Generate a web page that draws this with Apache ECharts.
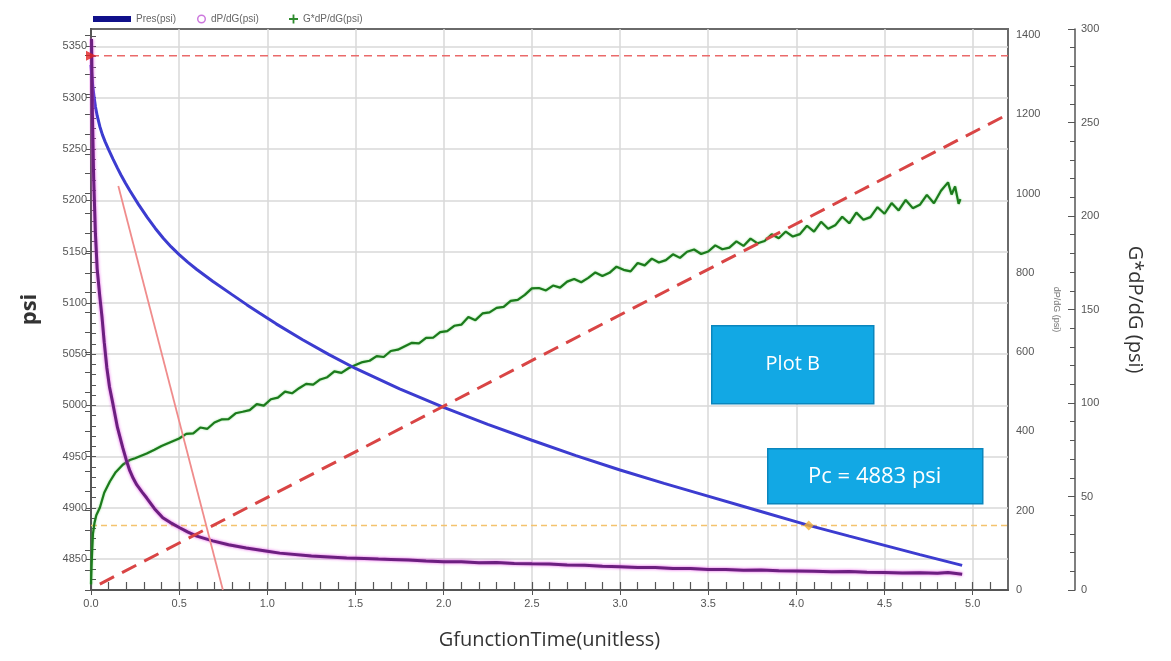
<!DOCTYPE html>
<html>
<head>
<meta charset="utf-8">
<script src="https://cdn.jsdelivr.net/npm/echarts@6/dist/echarts.min.js"></script>
<style>
html,body{margin:0;padding:0;background:#fff;}
#chart{width:1171px;height:661px;}
</style>
</head>
<body>
<div id="chart"></div>
<script>
// ---------- DATA ----------
const presTime = [0.000,0.005,0.010,0.018,0.025,0.035,0.050,0.065,0.080,0.100,0.125,0.150,0.170,0.195,0.220,0.270,0.320,0.365,0.410,0.455,0.500,0.550,0.600,0.690,0.800,0.885,0.955,1.050,1.200,1.350,1.500,1.750,2.000,2.250,2.500,2.750,3.000,3.250,3.440,3.750,4.070,4.300,4.500,4.700,4.940];
const presPsi  = [5332,5320.6,5311.1,5299.9,5291.5,5282.5,5272,5263.8,5257.2,5249.4,5240.1,5231.3,5224.7,5216.9,5209.5,5195.8,5183,5172.5,5163,5154.5,5147,5139.5,5132.5,5121,5108,5098,5090,5079.5,5064,5049.5,5036,5016,4998,4981.5,4966,4951,4937,4924,4914.5,4899,4883,4872.5,4863.5,4854.5,4844];

const dpdgTime = [0.003,0.008,0.015,0.025,0.035,0.050,0.062,0.075,0.090,0.105,0.124,0.150,0.180,0.200,0.220,0.240,0.260,0.290,0.316,0.360,0.407,0.450,0.503,0.550,0.600,0.690,0.780,0.880,1.000,1.070,1.250,1.450,1.550,1.630,1.700,1.800,1.900,2.000,2.100,2.200,2.300,2.400,2.500,2.600,2.700,2.800,2.900,3.000,3.100,3.200,3.300,3.400,3.500,3.600,3.700,3.800,3.900,4.000,4.100,4.200,4.300,4.400,4.500,4.600,4.700,4.800,4.860,4.940];
const dpdgVal  = [1390,1200,1040,900,810,740,690,625,560,512,470,410,359,328,301,281,265,247,232,205,182,170,157,146,136,124,114,106,98,93,86,81,79.5,78,77,75.5,73,71.5,71,69,69.5,67,66,65.5,63,62.5,60,58.5,57,56.5,54,54.5,52,51.5,50,50.5,48.5,48,47.5,46,46.5,44.5,44,43,43.5,42,44,40];

const gdpdgTime = [0.000,0.003,0.007,0.011,0.020,0.030,0.050,0.075,0.107,0.140,0.180,0.220,0.250,0.316,0.360,0.400,0.450,0.500,
  0.54,0.58,0.62,0.66,0.70,0.74,0.78,0.82,0.86,0.90,0.94,0.98,1.02,1.06,1.10,1.14,1.18,1.22,1.26,1.30,1.34,1.38,1.42,1.46,1.50,
  1.54,1.58,1.62,1.66,1.70,1.74,1.78,1.82,1.86,1.90,1.94,1.98,2.02,2.06,2.10,2.14,2.18,2.22,2.26,2.30,2.34,2.38,2.42,2.46,2.50,
  2.54,2.58,2.62,2.66,2.70,2.74,2.78,2.82,2.86,2.90,2.94,2.98,3.02,3.06,3.10,3.14,3.18,3.22,3.26,3.30,3.34,3.38,3.42,3.46,3.50,
  3.54,3.58,3.62,3.66,3.70,3.74,3.78,3.82,3.86,3.90,3.94,3.98,4.02,4.06,4.10,4.14,4.18,4.22,4.26,4.30,4.34,4.38,4.42,4.46,4.50,
  4.54,4.58,4.62,4.66,4.70,4.74,4.78,4.82,4.86,4.88,4.90,4.92,4.93];
const gdpdgVal  = [3,12,22,30,36,40,44,52,58,63,67,69.5,70.5,73,75,77,79,81,
  83.5,83.8,86.9,86.2,89.6,91.2,91.4,94.5,95.3,96.2,99.4,98.6,102.0,102.9,106.1,105.2,107.9,110.2,109.8,112.6,113.8,116.9,116.1,118.6,120.3,
  121.9,122.6,125.1,124.6,127.8,128.5,130.4,132.2,131.9,134.8,134.9,137.9,138.4,141.3,141.9,146.0,144.3,147.9,148.5,150.9,151.4,154.6,155.1,157.8,161.3,
  161.5,160.2,162.8,161.7,164.9,166.3,164.6,166.9,169.8,167.9,169.6,172.9,171.2,170.4,174.9,173.6,177.2,175.1,176.4,179.5,177.6,180.9,182.1,179.7,181.0,
  184.3,182.2,183.1,186.4,184.0,187.9,185.4,186.6,190.2,188.1,191.7,189.0,190.3,194.8,191.6,196.9,193.2,195.0,199.6,196.1,201.8,198.0,199.4,204.7,201.2,
  206.9,203.0,208.6,204.2,206.0,211.3,206.8,213.5,218.0,211.5,215.8,206.5,209.0];

// reference lines / markers
const initTime = [0, 5.2];            const initPsi = [5341, 5341];
const closureTime = [0, 5.2];         const closurePsi = [4883, 4883];
const tangentTime = [0.05, 5.2];      const tangentDpdg = [15, 1200];
const slopeTime = [0.155, 0.748];     const slopePsi = [5214, 4820];
const closurePointTime = [4.07];      const closurePointPsi = [4883];
const startMarkTime = [0];            const startMarkPsi = [5341];

// tick labels
const timeTicks = [0,0.5,1.0,1.5,2.0,2.5,3.0,3.5,4.0,4.5,5.0];
const psiTicks = [4850,4900,4950,5000,5050,5100,5150,5200,5250,5300,5350];
const dpdgTicks = [0,200,400,600,800,1000,1200,1400];

const timeMinor = []; for (let i = 0; i <= 51; i++) timeMinor.push(+(i * 0.1).toFixed(1));
const psiMinor = []; for (let v = 4830; v <= 5360; v += 10) psiMinor.push(v);
const dpdgMinor = []; for (let v = 0; v <= 1400; v += 50) dpdgMinor.push(v);

const zip = (a, b) => a.map((x, i) => [x, b[i]]);

// ---------- CHART ----------
const chart = echarts.init(document.getElementById('chart'), null, {renderer: 'canvas'});
const NARROW = 'Liberation Sans Narrow, Liberation Sans, sans-serif';
const axisFont = {color: '#555', fontSize: 11, fontFamily: NARROW};
const plain = v => String(v);
const PSI_MIN = 4820, PSI_MAX = 5367, DP_MAX = 1415;

const option = {
  backgroundColor: '#fff',
  animation: false,
  legend: [
    {left: 88, top: 9, itemWidth: 38, itemHeight: 6,
     textStyle: {color: '#666', fontSize: 10, fontFamily: NARROW},
     data: [{name: 'Pres(psi)', icon: 'rect', itemStyle: {color: '#10108a'}}]},
    {left: 192, top: 9, itemWidth: 9, itemHeight: 9,
     textStyle: {color: '#666', fontSize: 10, fontFamily: NARROW},
     data: [{name: 'dP/dG(psi)', icon: 'path://M5,0a5,5 0 1,0 0.001,0z M5,1.6a3.4,3.4 0 1,1 -0.001,0z', itemStyle: {color: '#cc77dd'}}]},
    {left: 284, top: 9, itemWidth: 9, itemHeight: 9,
     textStyle: {color: '#666', fontSize: 10, fontFamily: NARROW},
     data: [{name: 'G*dP/dG(psi)', icon: 'path://M4,0h2v4h4v2h-4v4h-2v-4h-4v-2h4z', itemStyle: {color: '#2e8b2e'}}]}
  ],
  grid: {left: 91, right: 163, top: 29, bottom: 71, show: true, borderColor: '#6a6a6a', borderWidth: 2, backgroundColor: '#fff'},
  xAxis: [
    {type: 'value', min: 0, max: 5.2, position: 'bottom',
     name: 'GfunctionTime(unitless)', nameLocation: 'middle', nameGap: 40,
     nameTextStyle: {color: '#333', fontSize: 20, fontFamily: 'Open Sans, sans-serif'},
     axisLine: {show: true, lineStyle: {color: '#555', width: 2}},
     axisTick: {show: true, inside: false, length: 5, customValues: timeTicks, lineStyle: {color: '#555'}},
     axisLabel: {customValues: timeTicks, formatter: v => v.toFixed(1), margin: 8, ...axisFont},
     splitLine: {show: true, lineStyle: {color: '#d9d9d9', width: 1.5}}},
    {type: 'value', min: 0, max: 5.2, position: 'bottom',
     axisLine: {show: false},
     axisTick: {show: true, inside: true, length: 8, customValues: timeMinor, lineStyle: {color: '#555', width: 1.2}},
     axisLabel: {show: false}, splitLine: {show: false}}
  ],
  yAxis: [
    {type: 'value', min: PSI_MIN, max: PSI_MAX, position: 'left',
     name: 'psi', nameLocation: 'middle', nameGap: 50,
     nameTextStyle: {color: '#333', fontSize: 22, fontWeight: 'bold', fontFamily: 'Open Sans, sans-serif'},
     axisLine: {show: true, lineStyle: {color: '#555', width: 2}},
     axisTick: {show: true, inside: false, length: 5, customValues: psiTicks, lineStyle: {color: '#555'}},
     axisLabel: {customValues: psiTicks, formatter: plain, margin: 4, ...axisFont},
     splitLine: {show: true, lineStyle: {color: '#d9d9d9', width: 1.5}}},
    {type: 'value', min: 0, max: DP_MAX, position: 'right',
     name: 'dP/dG (psi)', nameLocation: 'middle', nameGap: 44, nameRotate: -90,
     nameTextStyle: {color: '#777', fontSize: 9, fontFamily: 'Liberation Sans, sans-serif'},
     axisLine: {show: true, lineStyle: {color: '#555', width: 2}},
     axisTick: {show: true, inside: true, length: 6, customValues: dpdgMinor, lineStyle: {color: '#555'}},
     axisLabel: {customValues: dpdgTicks, formatter: plain, margin: 8, ...axisFont},
     splitLine: {show: false}},
    {type: 'value', min: 0, max: 300, interval: 50, position: 'right', offset: 67,
     name: 'G*dP/dG (psi)', nameLocation: 'middle', nameGap: 50, nameRotate: -90,
     nameTextStyle: {color: '#333', fontSize: 20, fontFamily: 'Open Sans, sans-serif'},
     axisLine: {show: true, lineStyle: {color: '#555', width: 1.5}},
     axisTick: {show: true, inside: true, length: 7, lineStyle: {color: '#555'}},
     minorTick: {show: true, splitNumber: 5, length: 5, lineStyle: {color: '#555'}},
     axisLabel: {formatter: plain, margin: 6, ...axisFont},
     splitLine: {show: false}},
    {type: 'value', min: PSI_MIN, max: PSI_MAX, position: 'left',
     axisLine: {show: false},
     axisTick: {show: true, inside: true, length: 5, customValues: psiMinor, lineStyle: {color: '#555'}},
     axisLabel: {show: false}, splitLine: {show: false}}
  ],
  series: [
    {name: 'initial', type: 'line', yAxisIndex: 0, data: zip(initTime, initPsi), showSymbol: false, silent: true, z: 2,
     lineStyle: {color: '#ea6a6a', width: 1.5, type: [8, 5]}},
    {name: 'closure', type: 'line', yAxisIndex: 0, data: zip(closureTime, closurePsi), showSymbol: false, silent: true, z: 2,
     lineStyle: {color: '#f4c36e', width: 1.5, type: [6, 4]}},
    {name: 'G*dP/dG(psi)', type: 'line', yAxisIndex: 2, data: zip(gdpdgTime, gdpdgVal), showSymbol: false, z: 3,
     itemStyle: {color: '#2e8b2e'},
     lineStyle: {color: '#1c7a1c', width: 2.2, shadowColor: 'rgba(60,200,60,0.6)', shadowBlur: 2}},
    {name: 'Pres(psi)', type: 'line', yAxisIndex: 0, data: zip(presTime, presPsi), showSymbol: false, z: 4,
     itemStyle: {color: '#10108a'},
     lineStyle: {color: '#3c3cd0', width: 3}},
    {name: 'dP/dG(psi)', type: 'line', yAxisIndex: 1, data: zip(dpdgTime, dpdgVal), showSymbol: false, z: 4,
     itemStyle: {color: '#cc77dd'},
     lineStyle: {color: '#6c1f80', width: 3, shadowColor: 'rgba(230,70,230,0.9)', shadowBlur: 3}},
    {name: 'slope', type: 'line', yAxisIndex: 0, data: zip(slopeTime, slopePsi), showSymbol: false, silent: true, z: 5,
     lineStyle: {color: '#f08c8c', width: 1.8}},
    {name: 'tangent', type: 'line', yAxisIndex: 1, data: zip(tangentTime, tangentDpdg), showSymbol: false, silent: true, z: 5,
     lineStyle: {color: '#d94545', width: 3, type: [16, 9]}},
    {name: 'closurePoint', type: 'scatter', yAxisIndex: 0, data: zip(closurePointTime, closurePointPsi), symbol: 'diamond', symbolSize: 10, z: 6,
     itemStyle: {color: '#f2b233'}},
    {name: 'startMark', type: 'scatter', yAxisIndex: 0, data: zip(startMarkTime, startMarkPsi), symbol: 'triangle', symbolRotate: -90, symbolSize: 10, clip: false, z: 6,
     itemStyle: {color: '#e02020'}}
  ],
  graphic: [
    {type: 'group', left: 711, top: 325, z: 100, children: [
      {type: 'rect', z: 100, shape: {x: 0, y: 0, width: 162, height: 78}, style: {fill: '#12a8e4', stroke: '#0a86bd', lineWidth: 1.5}},
      {type: 'text', z: 101, x: 81, y: 39, style: {text: 'Plot B', fill: '#fff', font: '20px "Open Sans", sans-serif', align: 'center', verticalAlign: 'middle'}}
    ]},
    {type: 'group', left: 767, top: 448, z: 100, children: [
      {type: 'rect', z: 100, shape: {x: 0, y: 0, width: 215, height: 55}, style: {fill: '#12a8e4', stroke: '#0a86bd', lineWidth: 1.5}},
      {type: 'text', z: 101, x: 107, y: 28, style: {text: 'Pc = 4883 psi', fill: '#fff', font: '22px "Open Sans", sans-serif', align: 'center', verticalAlign: 'middle'}}
    ]}
  ]
};
chart.setOption(option);
</script>
</body>
</html>
